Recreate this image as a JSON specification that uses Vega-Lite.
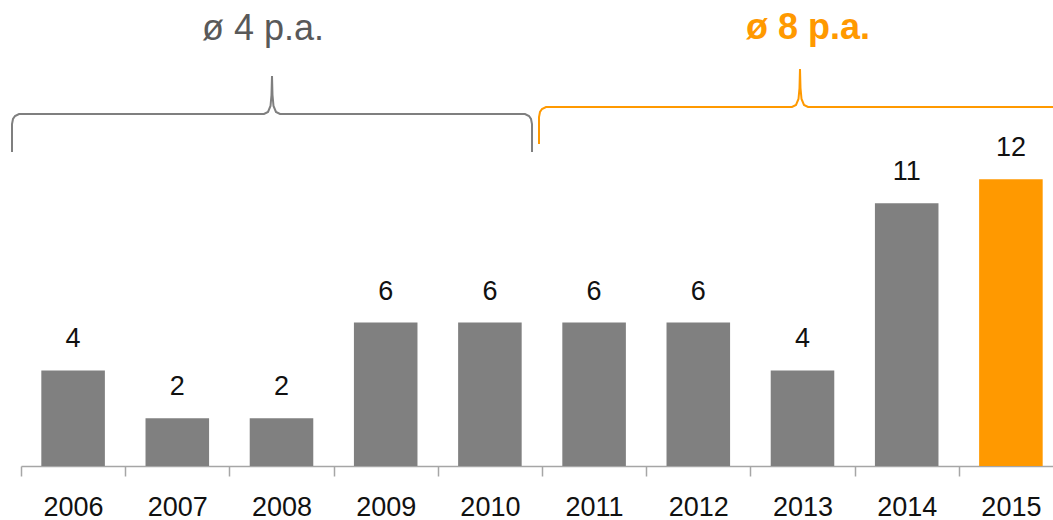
{
  "$schema": "https://vega.github.io/schema/vega-lite/v6.json",
  "width": 1032,
  "height": 466,
  "autosize": {"type": "none"},
  "padding": {"left": 21, "top": 0, "right": 0, "bottom": 54},
  "background": "white",
  "config": {"view": {"stroke": null}, "font": "Liberation Sans"},
  "datasets": {
    "bars": [
      {"year": "2006", "value": 4},
      {"year": "2007", "value": 2},
      {"year": "2008", "value": 2},
      {"year": "2009", "value": 6},
      {"year": "2010", "value": 6},
      {"year": "2011", "value": 6},
      {"year": "2012", "value": 6},
      {"year": "2013", "value": 4},
      {"year": "2014", "value": 11},
      {"year": "2015", "value": 12}
    ],
    "braces": [
      {"g": "a", "i": 0, "x": -0.0872, "y": 13.139},
      {"g": "a", "i": 1, "x": -0.0872, "y": 14.311},
      {"g": "a", "i": 2, "x": -0.0775, "y": 14.52},
      {"g": "a", "i": 3, "x": -0.0581, "y": 14.646},
      {"g": "a", "i": 4, "x": -0.0194, "y": 14.729},
      {"g": "a", "i": 5, "x": 2.3547, "y": 14.729},
      {"g": "a", "i": 6, "x": 2.3934, "y": 14.813},
      {"g": "a", "i": 7, "x": 2.4176, "y": 15.064},
      {"g": "a", "i": 8, "x": 2.4273, "y": 15.525},
      {"g": "a", "i": 9, "x": 2.4322, "y": 16.32},
      {"g": "a", "i": 10, "x": 2.437, "y": 15.525},
      {"g": "a", "i": 11, "x": 2.4467, "y": 15.064},
      {"g": "a", "i": 12, "x": 2.4709, "y": 14.813},
      {"g": "a", "i": 13, "x": 2.5097, "y": 14.729},
      {"g": "a", "i": 14, "x": 4.8837, "y": 14.729},
      {"g": "a", "i": 15, "x": 4.9225, "y": 14.646},
      {"g": "a", "i": 16, "x": 4.9419, "y": 14.52},
      {"g": "a", "i": 17, "x": 4.9516, "y": 14.311},
      {"g": "a", "i": 18, "x": 4.9516, "y": 13.139},
      {"g": "b", "i": 0, "x": 5.0194, "y": 13.474},
      {"g": "b", "i": 1, "x": 5.0194, "y": 14.604},
      {"g": "b", "i": 2, "x": 5.0291, "y": 14.813},
      {"g": "b", "i": 3, "x": 5.0484, "y": 14.939},
      {"g": "b", "i": 4, "x": 5.0872, "y": 15.022},
      {"g": "b", "i": 5, "x": 7.4709, "y": 15.022},
      {"g": "b", "i": 6, "x": 7.5097, "y": 15.106},
      {"g": "b", "i": 7, "x": 7.5339, "y": 15.357},
      {"g": "b", "i": 8, "x": 7.5436, "y": 15.817},
      {"g": "b", "i": 9, "x": 7.5484, "y": 16.612},
      {"g": "b", "i": 10, "x": 7.5533, "y": 15.817},
      {"g": "b", "i": 11, "x": 7.563, "y": 15.357},
      {"g": "b", "i": 12, "x": 7.5872, "y": 15.106},
      {"g": "b", "i": 13, "x": 7.626, "y": 15.022},
      {"g": "b", "i": 14, "x": 10.0, "y": 15.022}
    ],
    "labels": [
      {"g": "a", "x": 2.345, "y": 17.82, "text": "ø 4 p.a."},
      {"g": "b", "x": 7.626, "y": 17.868, "text": "ø 8 p.a."}
    ]
  },
  "layer": [
    {
      "data": {"name": "bars"},
      "encoding": {
        "x": {
          "field": "year",
          "type": "ordinal",
          "scale": {"paddingInner": 0, "paddingOuter": 0, "range": [0, 1042]},
          "axis": {
            "title": null,
            "labelAngle": 0,
            "tickBand": "extent",
            "domainColor": "#a6a6a6",
            "tickColor": "#a6a6a6",
            "domainWidth": 1.5,
            "tickWidth": 1.5,
            "tickSize": 10,
            "labelFontSize": 27,
            "labelColor": "#111111",
            "labelBaseline": "alphabetic",
            "labelPadding": 39
          }
        },
        "y": {
          "field": "value",
          "type": "quantitative",
          "scale": {"domain": [0, 19.5], "nice": false},
          "axis": null
        }
      },
      "layer": [
        {
          "mark": {"type": "bar", "width": {"band": 0.61}},
          "encoding": {
            "color": {
              "condition": {"test": "datum.year == '2015'", "value": "#ff9900"},
              "value": "#808080"
            }
          }
        },
        {
          "mark": {"type": "text", "dy": -23, "baseline": "alphabetic", "fontSize": 27, "color": "#111111"},
          "encoding": {"text": {"field": "value", "type": "quantitative"}}
        }
      ]
    },
    {
      "data": {"name": "braces"},
      "mark": {"type": "line", "strokeWidth": 2, "clip": false},
      "encoding": {
        "x": {"field": "x", "type": "quantitative", "scale": {"domain": [0, 10], "nice": false, "zero": false}, "axis": null},
        "y": {"field": "y", "type": "quantitative", "axis": null},
        "order": {"field": "i", "type": "quantitative"},
        "color": {"field": "g", "type": "nominal", "scale": {"domain": ["a", "b"], "range": ["#7f7f7f", "#ff9900"]}, "legend": null}
      }
    },
    {
      "data": {"name": "labels"},
      "transform": [{"filter": "datum.g == 'a'"}],
      "mark": {"type": "text", "fontSize": 36, "baseline": "alphabetic", "align": "center", "color": "#595959"},
      "encoding": {
        "x": {"field": "x", "type": "quantitative", "scale": {"domain": [0, 10], "nice": false, "zero": false}, "axis": null},
        "y": {"field": "y", "type": "quantitative", "axis": null},
        "text": {"field": "text"}
      }
    },
    {
      "data": {"name": "labels"},
      "transform": [{"filter": "datum.g == 'b'"}],
      "mark": {"type": "text", "fontSize": 36, "fontWeight": "bold", "baseline": "alphabetic", "align": "center", "color": "#ff9900"},
      "encoding": {
        "x": {"field": "x", "type": "quantitative", "scale": {"domain": [0, 10], "nice": false, "zero": false}, "axis": null},
        "y": {"field": "y", "type": "quantitative", "axis": null},
        "text": {"field": "text"}
      }
    }
  ],
  "resolve": {"scale": {"x": "independent", "color": "independent"}}
}
